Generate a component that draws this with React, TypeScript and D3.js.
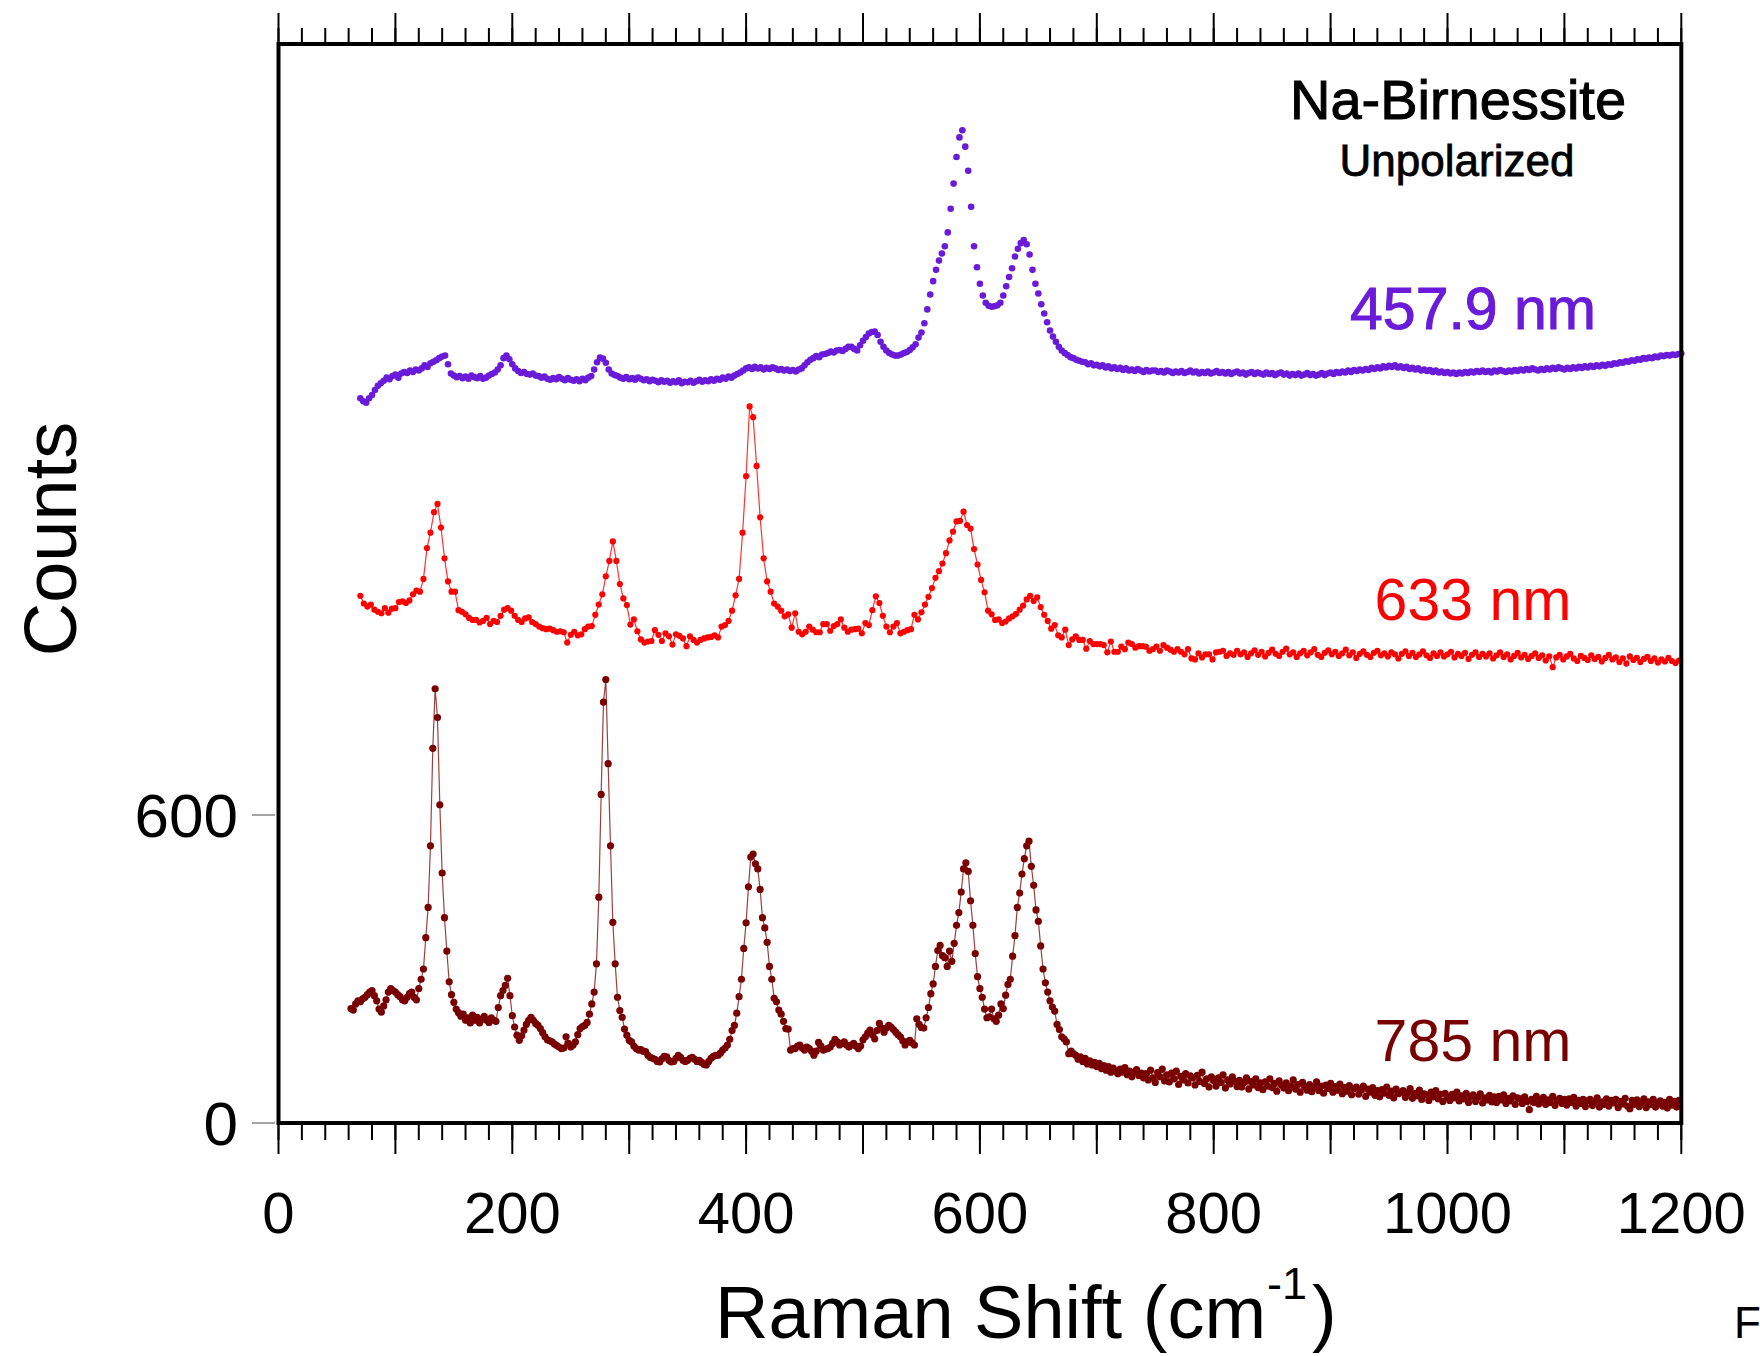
import React from "react";
import * as d3 from "d3";

// Canvas and frame geometry
const WIDTH = 1760;
const HEIGHT = 1356;
const FRAME = { left: 278.5, right: 1681.3, top: 44, bottom: 1123 };

// Axis definitions
const shiftDomain = [0, 1200];
const countDomain = [0, 2102];
const shiftMajorTicks = [0, 100, 200, 300, 400, 500, 600, 700, 800, 900, 1000, 1100, 1200];
const shiftLabelTicks = [0, 200, 400, 600, 800, 1000, 1200];
const countTicks = [0, 600];

// Spectrum sampling grids (first shift and spacing, cm-1)
const start785 = 62;
const step785 = 2;
const start633 = 70;
const step633 = 3;
const start458 = 70;
const step458 = 2.5;

// 785 nm excitation
const counts785 = [
  223, 220, 232, 238, 236, 242, 245, 250, 255, 258, // 62
  248, 238, 222, 216, 228, 240, 255, 262, 258, 255, // 82
  250, 246, 240, 238, 245, 252, 255, 245, 240, 262, // 102
  280, 300, 361, 420, 540, 730, 846, 790, 620, 487, // 122
  400, 335, 275, 250, 235, 222, 215, 208, 212, 200, // 142
  205, 195, 210, 200, 206, 195, 202, 208, 200, 196, // 162
  205, 200, 198, 225, 248, 258, 268, 282, 248, 209, // 182
  187, 171, 161, 170, 181, 192, 200, 206, 200, 194, // 202
  190, 184, 176, 168, 162, 160, 158, 154, 151, 148, // 222
  145, 146, 168, 155, 148, 152, 158, 172, 184, 188, // 242
  190, 196, 212, 232, 255, 310, 440, 640, 820, 864, // 262
  700, 540, 391, 310, 245, 219, 206, 183, 171, 161, // 282
  158, 150, 145, 142, 143, 140, 139, 132, 128, 126, // 302
  124, 120, 119, 125, 130, 129, 122, 119, 120, 126, // 322
  132, 128, 122, 120, 122, 126, 128, 124, 120, 122, // 342
  118, 114, 113, 120, 126, 130, 132, 132, 136, 142, // 362
  146, 152, 163, 180, 190, 214, 246, 280, 340, 390, // 382
  460, 518, 524, 505, 495, 455, 400, 380, 352, 305, // 402
  280, 243, 236, 220, 212, 198, 184, 183, 142, 145, // 422
  145, 150, 152, 146, 142, 148, 145, 140, 132, 140, // 442
  157, 150, 142, 144, 145, 148, 155, 163, 158, 152, // 462
  155, 158, 152, 148, 152, 155, 150, 145, 150, 162, // 482
  168, 175, 181, 172, 164, 180, 194, 185, 177, 185, // 502
  190, 187, 182, 177, 172, 168, 160, 152, 158, 161, // 522
  156, 152, 203, 192, 186, 185, 205, 225, 252, 271, // 542
  305, 336, 346, 326, 322, 305, 335, 315, 350, 385, // 562
  410, 450, 495, 507, 490, 433, 385, 330, 285, 262, // 582
  245, 222, 205, 207, 222, 203, 198, 210, 232, 223, // 602
  249, 270, 280, 325, 365, 420, 448, 485, 515, 540, // 622
  549, 500, 463, 415, 393, 345, 300, 273, 255, 238, // 642
  226, 218, 192, 182, 168, 164, 158, 135, 140, 135, // 662
  132, 124, 129, 120, 126, 115, 121, 113, 118, 110, // 682
  116, 106, 112, 103, 110, 99, 107, 101, 96, 105, // 702
  99, 108, 94, 101, 90, 99, 104, 92, 97, 88, // 722
  96, 84, 103, 88, 79, 98, 90, 105, 82, 94, // 742
  80, 97, 86, 101, 75, 91, 84, 96, 78, 92, // 762
  88, 74, 93, 81, 99, 77, 86, 70, 90, 83, // 782
  72, 88, 79, 94, 68, 84, 76, 90, 81, 71, // 802
  83, 70, 79, 88, 66, 81, 74, 86, 69, 78, // 822
  65, 80, 72, 86, 69, 77, 62, 82, 74, 68, // 842
  78, 63, 72, 84, 66, 75, 60, 79, 70, 64, // 862
  75, 61, 70, 80, 63, 72, 58, 74, 67, 77, // 882
  60, 71, 64, 76, 57, 69, 62, 73, 55, 67, // 902
  70, 56, 64, 72, 52, 66, 60, 69, 54, 63, // 922
  51, 65, 58, 70, 54, 62, 49, 66, 57, 60, // 942
  63, 50, 59, 67, 48, 58, 53, 64, 46, 57, // 962
  55, 44, 60, 51, 63, 47, 56, 42, 58, 50, // 982
  44, 56, 49, 60, 43, 53, 47, 58, 40, 52, // 1002
  55, 42, 50, 57, 39, 49, 45, 54, 41, 51, // 1022
  40, 52, 45, 55, 38, 48, 43, 53, 36, 49, // 1042
  47, 38, 51, 42, 26, 46, 40, 52, 37, 45, // 1062
  50, 36, 45, 40, 52, 34, 44, 48, 38, 46, // 1082
  35, 47, 40, 50, 33, 44, 38, 46, 32, 43, // 1102
  46, 34, 42, 49, 31, 41, 36, 47, 33, 44, // 1122
  39, 46, 30, 42, 37, 48, 33, 28, 44, 36, // 1142
  45, 32, 40, 47, 30, 41, 36, 46, 31, 39, // 1162
  43, 33, 40, 29, 46, 35, 42, 31, 44, // 1182
];

// 633 nm excitation
const counts633 = [
  1027, 1012, 1006, 1010, 1000, 996, 993, 1003, 994, 1002, // 70
  1003, 1015, 1016, 1013, 1018, 1030, 1037, 1035, 1060, 1120, // 100
  1150, 1190, 1206, 1160, 1100, 1055, 1035, 1035, 999, 996, // 130
  991, 984, 980, 980, 975, 978, 984, 972, 978, 976, // 160
  988, 1000, 1003, 998, 988, 980, 976, 983, 985, 976, // 190
  972, 967, 964, 962, 963, 960, 957, 958, 956, 936, // 220
  951, 957, 950, 952, 962, 967, 968, 990, 1010, 1030, // 250
  1065, 1095, 1133, 1095, 1050, 1022, 1009, 971, 981, 958, // 280
  942, 936, 938, 939, 960, 951, 939, 954, 948, 932, // 310
  952, 949, 944, 929, 948, 941, 936, 941, 944, 946, // 340
  947, 950, 946, 967, 970, 978, 998, 1028, 1060, 1150, // 370
  1260, 1396, 1375, 1280, 1180, 1100, 1055, 1035, 1012, 1006, // 400
  998, 987, 991, 965, 993, 957, 952, 957, 967, 961, // 430
  956, 956, 972, 972, 959, 968, 972, 981, 965, 957, // 460
  961, 962, 963, 954, 974, 970, 999, 1026, 1013, 988, // 490
  967, 956, 967, 974, 954, 957, 960, 962, 990, 981, // 520
  995, 1010, 1025, 1042, 1062, 1075, 1090, 1110, 1135, 1152, // 550
  1172, 1173, 1191, 1165, 1158, 1118, 1088, 1058, 1034, 998, // 580
  991, 980, 981, 974, 977, 983, 987, 992, 1000, 1008, // 610
  1020, 1027, 1017, 1024, 1005, 990, 978, 963, 970, 950, // 640
  946, 961, 931, 942, 948, 941, 941, 924, 939, 933, // 670
  933, 933, 931, 917, 938, 918, 918, 928, 923, 936, // 700
  933, 926, 929, 929, 928, 920, 923, 928, 920, 931, // 730
  926, 922, 918, 923, 918, 913, 923, 905, 903, 915, // 760
  907, 913, 913, 903, 917, 918, 920, 910, 915, 912, // 790
  920, 913, 917, 908, 915, 921, 912, 918, 909, 916, // 820
  922, 914, 910, 918, 924, 913, 917, 908, 915, 920, // 850
  911, 917, 923, 912, 908, 916, 921, 913, 918, 910, // 880
  915, 922, 911, 917, 906, 914, 919, 912, 908, 916, // 910
  920, 911, 915, 909, 917, 913, 905, 914, 919, 910, // 940
  916, 908, 913, 919, 911, 906, 915, 910, 917, 909, // 970
  913, 918, 907, 914, 910, 916, 904, 912, 917, 908, // 1000
  914, 909, 915, 905, 911, 917, 908, 913, 903, 910, // 1030
  916, 907, 912, 904, 910, 915, 906, 911, 901, 909, // 1060
  888, 907, 912, 903, 909, 914, 905, 900, 910, 906, // 1090
  902, 911, 904, 908, 899, 906, 912, 903, 907, 898, // 1120
  905, 895, 909, 902, 906, 898, 904, 908, 900, 905, // 1150
  897, 903, 899, 906, 900, 896, 901, // 1180
];

// 457.9 nm excitation
const counts458 = [
  1412, 1406, 1403, 1412, 1418, 1428, 1436, 1441, // 70
  1446, 1452, 1449, 1455, 1458, 1452, 1460, 1463, // 90
  1461, 1466, 1463, 1468, 1466, 1470, 1476, 1473, // 110
  1480, 1483, 1486, 1490, 1493, 1495, 1478, 1460, // 130
  1456, 1453, 1455, 1451, 1454, 1450, 1456, 1453, // 150
  1451, 1455, 1450, 1452, 1456, 1459, 1462, 1468, // 170
  1476, 1490, 1495, 1488, 1478, 1470, 1465, 1461, // 190
  1463, 1459, 1458, 1460, 1456, 1455, 1452, 1454, // 210
  1450, 1448, 1451, 1449, 1453, 1450, 1447, 1451, // 230
  1448, 1446, 1449, 1445, 1450, 1447, 1452, 1455, // 250
  1468, 1482, 1491, 1489, 1481, 1468, 1460, 1457, // 270
  1455, 1452, 1450, 1453, 1449, 1451, 1448, 1452, // 290
  1450, 1447, 1449, 1445, 1448, 1446, 1443, 1447, // 310
  1444, 1446, 1442, 1445, 1443, 1447, 1441, 1444, // 330
  1443, 1446, 1442, 1445, 1448, 1444, 1447, 1445, // 350
  1449, 1446, 1450, 1448, 1452, 1450, 1454, 1452, // 370
  1456, 1459, 1462, 1466, 1470, 1472, 1469, 1473, // 390
  1470, 1472, 1468, 1471, 1469, 1472, 1470, 1467, // 410
  1469, 1466, 1468, 1465, 1467, 1464, 1468, 1470, // 430
  1476, 1482, 1487, 1490, 1494, 1492, 1497, 1498, // 450
  1500, 1503, 1501, 1505, 1506, 1504, 1508, 1512, // 470
  1512, 1508, 1505, 1515, 1524, 1531, 1538, 1541, // 490
  1542, 1535, 1522, 1512, 1505, 1500, 1497, 1495, // 510
  1495, 1497, 1500, 1502, 1506, 1511, 1517, 1530, // 530
  1540, 1558, 1585, 1614, 1640, 1662, 1680, 1694, // 550
  1708, 1735, 1781, 1830, 1882, 1920, 1934, 1902, // 570
  1855, 1785, 1708, 1667, 1635, 1612, 1598, 1592, // 590
  1590, 1591, 1593, 1598, 1612, 1630, 1648, 1665, // 610
  1688, 1703, 1714, 1720, 1712, 1692, 1662, 1635, // 630
  1616, 1595, 1577, 1560, 1544, 1532, 1522, 1512, // 650
  1505, 1500, 1496, 1492, 1490, 1487, 1485, 1483, // 670
  1482, 1478, 1480, 1476, 1477, 1474, 1476, 1472, // 690
  1474, 1470, 1472, 1469, 1471, 1467, 1470, 1466, // 710
  1468, 1465, 1469, 1466, 1463, 1467, 1464, 1466, // 730
  1466, 1463, 1465, 1462, 1466, 1464, 1461, 1464, // 750
  1462, 1465, 1461, 1463, 1466, 1462, 1464, 1460, // 770
  1463, 1461, 1464, 1460, 1462, 1465, 1461, 1463, // 790
  1460, 1463, 1459, 1462, 1464, 1460, 1462, 1458, // 810
  1461, 1463, 1459, 1462, 1460, 1458, 1462, 1459, // 830
  1461, 1457, 1460, 1462, 1458, 1460, 1456, 1459, // 850
  1457, 1460, 1456, 1458, 1461, 1457, 1459, 1456, // 870
  1458, 1461, 1457, 1460, 1462, 1459, 1463, 1461, // 890
  1464, 1462, 1466, 1463, 1467, 1465, 1468, 1466, // 910
  1469, 1467, 1471, 1469, 1472, 1470, 1474, 1472, // 930
  1475, 1473, 1476, 1472, 1474, 1471, 1473, 1469, // 950
  1471, 1468, 1470, 1466, 1468, 1465, 1467, 1463, // 970
  1466, 1462, 1464, 1461, 1463, 1460, 1462, 1459, // 990
  1462, 1460, 1463, 1461, 1464, 1462, 1465, 1463, // 1010
  1466, 1463, 1465, 1462, 1466, 1464, 1467, 1465, // 1030
  1463, 1466, 1464, 1467, 1465, 1468, 1466, 1469, // 1050
  1467, 1470, 1468, 1466, 1469, 1467, 1470, 1468, // 1070
  1471, 1469, 1472, 1470, 1468, 1471, 1469, 1472, // 1090
  1470, 1473, 1471, 1474, 1472, 1475, 1473, 1476, // 1110
  1474, 1477, 1475, 1478, 1477, 1480, 1479, 1482, // 1130
  1481, 1484, 1483, 1486, 1485, 1488, 1487, 1490, // 1150
  1489, 1491, 1490, 1493, 1492, 1495, 1494, 1496, // 1170
  1495, 1497, 1496, 1498, 1499, // 1190
];

// Spectrum labels
const laserLabels = ["457.9 nm", "633 nm", "785 nm"];
const titleLines = ["Na-Birnessite", "Unpolarized"];

const SANS = "'Liberation Sans', Arial, Helvetica, sans-serif";
const COLOR_458 = "#6a1bd9";
const COLOR_633 = "#ff0000";
const COLOR_785 = "#780000";

type Pt = [number, number];

function toPoints(start: number, step: number, values: number[]): Pt[] {
  return values.map((v, i) => [start + i * step, v] as Pt);
}

export default function App() {
  const x = d3.scaleLinear().domain(shiftDomain).range([FRAME.left, FRAME.right]);
  const y = d3.scaleLinear().domain(countDomain).range([FRAME.bottom, FRAME.top]);

  const minorTicks = x.ticks(60);
  const line = d3
    .line<Pt>()
    .x((d) => x(d[0]))
    .y((d) => y(d[1]));

  const pts785 = toPoints(start785, step785, counts785);
  const pts633 = toPoints(start633, step633, counts633);
  const pts458 = toPoints(start458, step458, counts458);

  return (
    <svg
      width={WIDTH}
      height={HEIGHT}
      viewBox={`0 0 ${WIDTH} ${HEIGHT}`}
      style={{ position: "absolute", left: 0, top: 0, background: "#fff" }}
      fontFamily={SANS}
    >
      <rect x={0} y={0} width={WIDTH} height={HEIGHT} fill="#fff" />

      {/* minor and major ticks on top and bottom edges */}
      <g stroke="#000" strokeWidth={2}>
        {minorTicks.map((t) => (
          <g key={`mt${t}`}>
            <line x1={x(t)} x2={x(t)} y1={FRAME.top} y2={FRAME.top - 16} />
            <line x1={x(t)} x2={x(t)} y1={FRAME.bottom} y2={FRAME.bottom + 17} />
          </g>
        ))}
        {shiftMajorTicks.map((t) => (
          <g key={`Mt${t}`}>
            <line x1={x(t)} x2={x(t)} y1={FRAME.top} y2={FRAME.top - 31} />
            <line x1={x(t)} x2={x(t)} y1={FRAME.bottom} y2={FRAME.bottom + 31} />
          </g>
        ))}
      </g>

      {/* count ticks on the left edge */}
      <g stroke="#888" strokeWidth={1.5}>
        {countTicks.map((t) => (
          <line key={`ct${t}`} x1={252} x2={275} y1={y(t)} y2={y(t)} />
        ))}
      </g>

      {/* 785 nm */}
      <path d={line(pts785) || ""} fill="none" stroke={COLOR_785} strokeOpacity={0.75} strokeWidth={1.2} />
      <g fill={COLOR_785}>
        {pts785.map((d, i) => (
          <circle key={`a${i}`} cx={x(d[0])} cy={y(d[1])} r={3.6} />
        ))}
      </g>

      {/* 633 nm */}
      <path d={line(pts633) || ""} fill="none" stroke={COLOR_633} strokeOpacity={0.8} strokeWidth={1.2} />
      <g fill={COLOR_633}>
        {pts633.map((d, i) => (
          <circle key={`b${i}`} cx={x(d[0])} cy={y(d[1])} r={3.1} />
        ))}
      </g>

      {/* 457.9 nm */}
      <g fill={COLOR_458}>
        {pts458.map((d, i) => (
          <circle key={`c${i}`} cx={x(d[0])} cy={y(d[1])} r={3.3} />
        ))}
      </g>

      {/* frame */}
      <rect
        x={FRAME.left}
        y={FRAME.top}
        width={FRAME.right - FRAME.left}
        height={FRAME.bottom - FRAME.top}
        fill="none"
        stroke="#000"
        strokeWidth={4}
      />

      {/* tick labels */}
      <g fontSize={58} textAnchor="middle" fill="#000">
        {shiftLabelTicks.map((t) => (
          <text key={`xl${t}`} x={x(t)} y={1233}>
            {t}
          </text>
        ))}
      </g>
      <g fontSize={62} textAnchor="end" fill="#000">
        {countTicks.map((t) => (
          <text key={`yl${t}`} x={238} y={y(t) + 22}>
            {t}
          </text>
        ))}
      </g>

      {/* axis titles */}
      <text x={715} y={1338} fontSize={74} fill="#000">
        Raman Shift (cm
        <tspan dx={1} dy={-39} fontSize={45}>
          -1
        </tspan>
        <tspan dx={5} dy={39}>
          )
        </tspan>
      </text>
      <text transform="translate(76,539) rotate(-90)" textAnchor="middle" fontSize={74} fill="#000">
        Counts
      </text>
      <text x={1734} y={1338} fontSize={44} fill="#000">
        F
      </text>

      {/* sample title */}
      <text x={1458} y={118.5} fontSize={56} textAnchor="middle" fill="#000" stroke="#000" strokeWidth={1}>
        {titleLines[0]}
      </text>
      <text x={1457} y={176} fontSize={44} textAnchor="middle" fill="#000" stroke="#000" strokeWidth={0.8}>
        {titleLines[1]}
      </text>

      {/* excitation labels */}
      <text
        x={1473}
        y={329}
        fontSize={59}
        textAnchor="middle"
        fill={COLOR_458}
        stroke={COLOR_458}
        strokeWidth={1}
      >
        {laserLabels[0]}
      </text>
      <text x={1473} y={619.6} fontSize={59} textAnchor="middle" fill={COLOR_633}>
        {laserLabels[1]}
      </text>
      <text x={1473} y={1060.7} fontSize={59} textAnchor="middle" fill={COLOR_785}>
        {laserLabels[2]}
      </text>
    </svg>
  );
}
